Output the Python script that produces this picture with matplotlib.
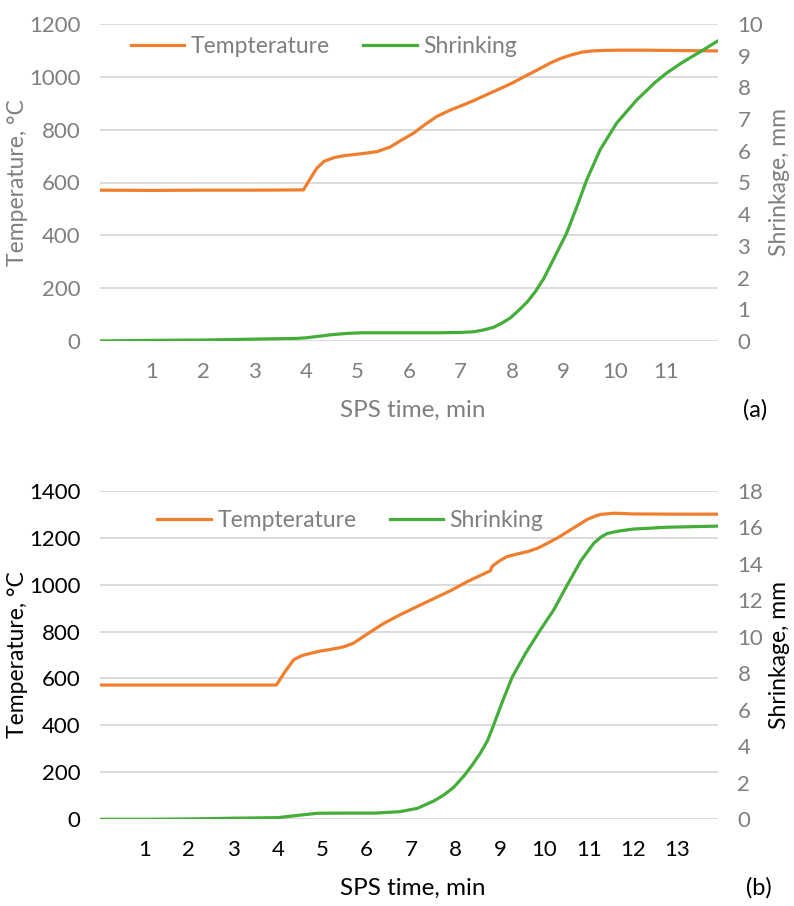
import matplotlib
matplotlib.use("Agg")
from matplotlib import pyplot as plt

plt.rcParams['font.family'] = ['Lato', 'DejaVu Sans']

ORANGE = '#F07F2D'
GREEN = '#45AD3A'
GRAY = '#7f7f7f'
GRID = '#d9d9d9'

# ---- panel (a) data ----
time_a_temp = [0, 1, 2, 3, 3.95, 4.1, 4.21, 4.35, 4.54, 4.75, 4.99, 5.2, 5.38, 5.63, 5.85, 6.09,
               6.3, 6.54, 6.8, 7.06, 7.3, 7.57, 7.8, 8.0, 8.25, 8.5, 8.74, 8.95, 9.15, 9.35,
               9.55, 9.8, 10.1, 10.5, 11.0, 11.5, 12.0]
temp_a = [571, 570, 571, 571, 572, 620, 654, 680, 694, 702, 707, 712, 717, 734, 760, 787,
          818, 850, 874, 894, 914, 938, 958, 976, 1002, 1027, 1052, 1070, 1083, 1093,
          1098, 1100, 1101, 1101, 1100, 1099, 1098]

time_a_shr = [0, 1, 2, 3, 3.8, 4.0, 4.2, 4.5, 4.8, 5.1, 5.5, 6.0, 6.6, 7.0, 7.25, 7.45, 7.64,
              7.8, 7.96, 8.1, 8.29, 8.45, 8.62, 8.8, 9.06, 9.26, 9.45, 9.71, 10.03, 10.42, 10.78,
              11.0, 11.3, 11.65, 12.0]
shr_a = [0.0, 0.02, 0.03, 0.06, 0.08, 0.1, 0.14, 0.2, 0.24, 0.26, 0.26, 0.26, 0.26, 0.27, 0.29,
         0.35, 0.43, 0.56, 0.72, 0.92, 1.22, 1.55, 1.98, 2.56, 3.4, 4.24, 5.08, 6.03, 6.87, 7.6,
         8.16, 8.45, 8.78, 9.12, 9.47]

# ---- panel (b) data ----
time_b_temp = [0, 1, 2, 3, 3.97, 4.15, 4.36, 4.55, 4.74, 4.96, 5.2, 5.49, 5.7, 5.87, 6.1, 6.39,
               6.76, 7.1, 7.51, 7.9, 8.26, 8.55, 8.79, 8.81, 8.86, 9.0, 9.16, 9.4, 9.62, 9.85,
               10.07, 10.3, 10.52, 10.75, 10.97, 11.15, 11.27, 11.57, 12.0, 13.0, 13.91]
temp_b = [572, 572, 572, 572, 572, 625, 680, 698, 707, 717, 724, 735, 750, 771, 800, 835,
          872, 903, 940, 975, 1012, 1038, 1059, 1072, 1083, 1102, 1119, 1131, 1140, 1155,
          1176, 1199, 1225, 1252, 1278, 1292, 1299, 1304, 1301, 1300, 1300]

time_b_shr = [0, 1, 2, 3, 4.0, 4.4, 4.89, 5.5, 6.2, 6.76, 7.14, 7.51, 7.75, 7.96, 8.2, 8.38, 8.56,
              8.72, 8.85, 9.05, 9.28, 9.58, 9.91, 10.21, 10.52, 10.82, 11.11, 11.27, 11.42,
              11.7, 12.02, 12.77, 13.91]
shr_b = [0.0, 0.0, 0.02, 0.06, 0.09, 0.2, 0.33, 0.34, 0.34, 0.42, 0.6, 1.0, 1.35, 1.75, 2.4, 2.98,
         3.62, 4.3, 5.1, 6.4, 7.8, 9.1, 10.37, 11.46, 12.85, 14.15, 15.11, 15.45, 15.66, 15.8,
         15.9, 16.0, 16.06]


def panel(rect, t_temp, temp, t_shr, shr, xmax, xticks, tmax, tstep, smax, sstep,
          tick_col_left, label_col_left, tick_col_right, label_col_right, tick_col_x,
          label_col_x, leg_pos, tag, tag_xy, xlabel_y):
    ax = fig.add_axes(rect)
    ax2 = ax.twinx()
    l1, = ax.plot(t_temp, temp, color=ORANGE, lw=2.3, solid_joinstyle='round')
    l2, = ax2.plot(t_shr, shr, color=GREEN, lw=2.3, solid_joinstyle='round')
    ax.set_xlim(0, xmax)
    ax.set_ylim(0, tmax)
    ax2.set_ylim(0, smax)
    ax.set_yticks(range(0, tmax + 1, tstep))
    ax2.set_yticks(range(0, smax + 1, sstep))
    ax.set_xticks(xticks)
    ax.grid(axis='y', color=GRID, lw=1.3)
    ax.set_axisbelow(True)
    for a in (ax, ax2):
        for s in a.spines.values():
            s.set_visible(False)
    ax.tick_params(axis='both', length=0, labelsize=16)
    ax2.tick_params(axis='y', length=0, labelsize=16, labelcolor=tick_col_right, pad=14)
    ax.tick_params(axis='y', labelcolor=tick_col_left, pad=14)
    ax.tick_params(axis='x', labelcolor=tick_col_x, pad=15)
    ax.set_ylabel('Temperature, °C', fontsize=16.5, color=label_col_left, labelpad=1)
    ax2.set_ylabel('Shrinkage, mm', fontsize=16.5, color=label_col_right, labelpad=4)
    fig.text(0.52, xlabel_y, 'SPS time, min', fontsize=17.5, color=label_col_x, ha='center', va='center')
    fig.text(tag_xy[0], tag_xy[1], tag, fontsize=17, color='black', ha='center', va='center')
    ax.legend([l1, l2], ['Tempterature', 'Shrinking'], loc='center', bbox_to_anchor=leg_pos,
              ncol=2, frameon=False, fontsize=16.5, handlelength=2.35, handletextpad=0.27,
              columnspacing=1.45, labelcolor=GRAY)
    return ax, ax2


fig = plt.figure(figsize=(7.94, 9.06), dpi=100)

panel([100 / 794, 1 - 341 / 906, 618 / 794, 317 / 906], time_a_temp, temp_a, time_a_shr, shr_a,
      12, list(range(1, 12)), 1200, 200, 10, 1,
      GRAY, GRAY, GRAY, GRAY, GRAY, GRAY, (0.362, 0.93), '(a)', (755 / 794, 1 - 410 / 906),
      1 - 410 / 906)

panel([100 / 794, 1 - 819.3 / 906, 618 / 794, 328.6 / 906], time_b_temp, temp_b, time_b_shr, shr_b,
      13.91, list(range(1, 14)), 1400, 200, 18, 2,
      'black', 'black', GRAY, 'black', 'black', 'black', (0.405, 0.908), '(b)', (759 / 794, 1 - 888 / 906),
      1 - 888 / 906)

fig.savefig('out.png', dpi=100)
